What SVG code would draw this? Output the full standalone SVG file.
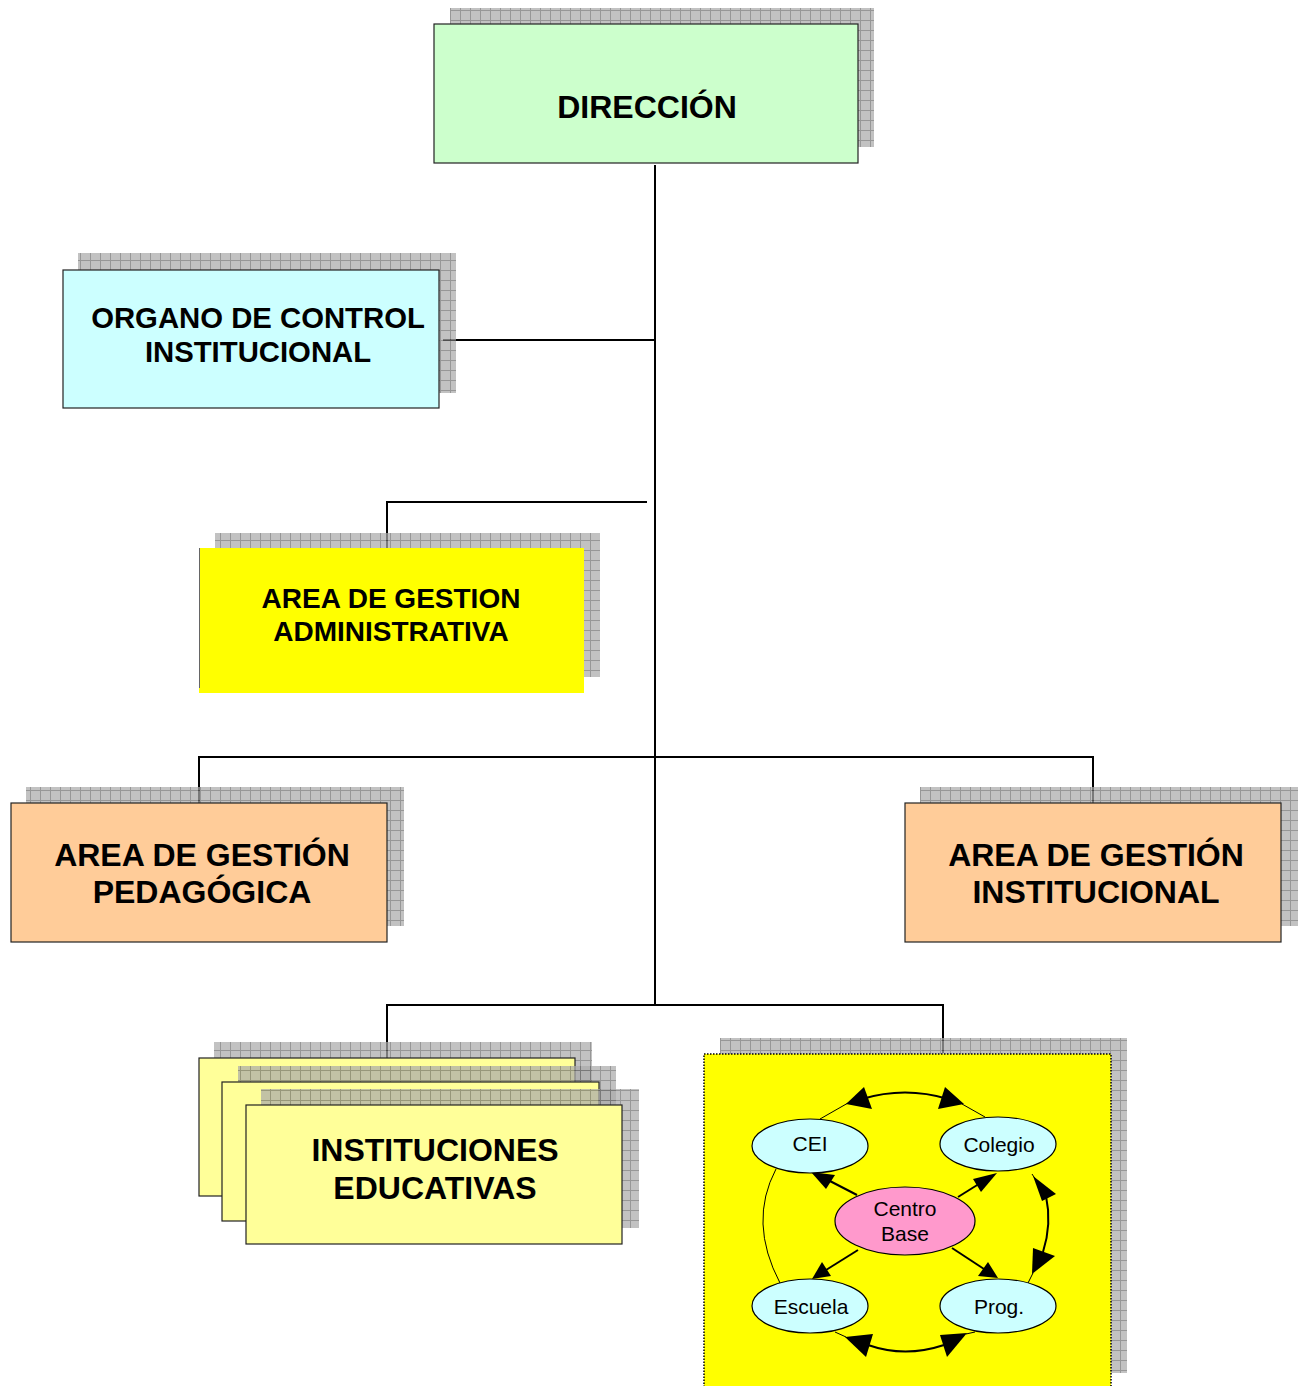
<svg xmlns="http://www.w3.org/2000/svg" width="1303" height="1386" viewBox="0 0 1303 1386">
<defs>
<pattern id="grid" x="0" y="0" width="10" height="10" patternUnits="userSpaceOnUse">
<rect width="10" height="10" fill="#aaaaaa"/>
<path d="M0 0.5H10M0.5 0V10" stroke="#6e6e6e" stroke-width="1"/>
</pattern>
<style>
.sh{fill:url(#grid);opacity:0.72}
.box{stroke:#222;stroke-width:1.2}
.big{font-family:"Liberation Sans",Arial,sans-serif;font-weight:bold;fill:#000;text-anchor:middle}
.sm{font-family:"Liberation Sans",Arial,sans-serif;font-size:21px;fill:#000;text-anchor:middle}
.ln{stroke:#000;stroke-width:2;fill:none}
.thin{stroke:#000;stroke-width:1;fill:none}
.ah{fill:#000}
.ell{stroke:#000;stroke-width:1.2}
</style>
</defs>
<rect width="1303" height="1386" fill="#fff"/>

<g id="connectors">
<path class="ln" d="M655 165V1005"/>
<path class="ln" d="M443 340H655"/>
<path class="ln" d="M647 502H387V548"/>
<path class="ln" d="M199 803V757H1093V803"/>
<path class="ln" d="M387 1058V1005H943V1053"/>
</g>

<g id="direccion">
<rect class="sh" x="450" y="8" width="424" height="139"/>
<rect class="box" x="434" y="24" width="424" height="139" fill="#ccffcc"/>
<text class="big" x="647" y="118" font-size="32">DIRECCIÓN</text>
</g>

<g id="organo">
<rect class="sh" x="78" y="253" width="378" height="140"/>
<rect class="box" x="63" y="270" width="376" height="138" fill="#ccffff"/>
<text class="big" x="258" y="328" font-size="29.3">ORGANO DE CONTROL</text>
<text class="big" x="258" y="362" font-size="29.3">INSTITUCIONAL</text>
</g>

<g id="admin">
<rect class="sh" x="215" y="533" width="385" height="144"/>
<rect x="199" y="548" width="385" height="145" fill="#ffff00"/>
<path d="M199.5 548V688" stroke="#666" stroke-width="1"/>
<text class="big" x="391" y="608" font-size="28">AREA DE GESTION</text>
<text class="big" x="391" y="641" font-size="28">ADMINISTRATIVA</text>
</g>

<g id="pedagogica">
<rect class="sh" x="26" y="787" width="378" height="139"/>
<rect class="box" x="11" y="803" width="376" height="139" fill="#ffcc99"/>
<text class="big" x="202" y="866" font-size="32">AREA DE GESTIÓN</text>
<text class="big" x="202" y="903" font-size="32">PEDAGÓGICA</text>
</g>

<g id="institucional">
<rect class="sh" x="920" y="787" width="378" height="139"/>
<rect class="box" x="905" y="803" width="376" height="139" fill="#ffcc99"/>
<text class="big" x="1096" y="866" font-size="32">AREA DE GESTIÓN</text>
<text class="big" x="1096" y="903" font-size="32">INSTITUCIONAL</text>
</g>

<g id="instituciones">
<rect class="sh" x="214" y="1042" width="378" height="139"/>
<rect class="box" x="199" y="1058" width="376" height="138" fill="#ffff99"/>
<rect class="sh" x="238" y="1066" width="378" height="140"/>
<rect class="box" x="222" y="1082" width="377" height="139" fill="#ffff99"/>
<rect class="sh" x="261" y="1089" width="378" height="139"/>
<rect class="box" x="246" y="1105" width="376" height="139" fill="#ffff99"/>
<text class="big" x="435" y="1161" font-size="32">INSTITUCIONES</text>
<text class="big" x="435" y="1199" font-size="32">EDUCATIVAS</text>
</g>

<g id="red">
<rect class="sh" x="720" y="1038" width="407" height="335"/>
<rect x="704" y="1054" width="407" height="340" fill="#ffff00" stroke="#000" stroke-width="1.5" stroke-dasharray="1.5 1.5"/>
<path class="thin" d="M820 1119 L848 1103"/>
<path class="ln" d="M862 1099 Q905 1086 948 1099"/>
<path class="thin" d="M962 1104 L985 1117"/>
<polygon class="ah" points="846,1104 864,1087 872,1109"/>
<polygon class="ah" points="964,1104 945,1087 938,1109"/>

<path class="thin" d="M1032 1174 L1036 1180"/>
<path class="ln" d="M1046 1196 Q1052 1224 1043 1252"/>
<path class="thin" d="M1033 1273 L1028 1283"/>
<polygon class="ah" points="1033,1176 1056,1194 1042,1201"/>
<polygon class="ah" points="1032,1274 1033,1248 1055,1256"/>

<path class="thin" d="M835 1332 L846 1337"/>
<path class="ln" d="M868 1345 Q905 1358 944 1345"/>
<path class="thin" d="M966 1334 L975 1332"/>
<polygon class="ah" points="845,1337 873,1334 866,1357"/>
<polygon class="ah" points="967,1333 940,1335 947,1357"/>

<path class="thin" d="M776 1169 Q748 1222 780 1283"/>

<path class="ln" d="M857 1195 L828 1180"/>
<polygon class="ah" points="811,1172 835,1175 826,1189"/>
<path class="ln" d="M958 1197 L982 1182"/>
<polygon class="ah" points="997,1173 981,1192 973,1179"/>
<path class="ln" d="M858 1250 L826 1270"/>
<polygon class="ah" points="812,1279 822,1262 831,1276"/>
<path class="ln" d="M952 1248 L984 1269"/>
<polygon class="ah" points="998,1278 978,1276 988,1262"/>

<g id="cei">
<ellipse class="ell" cx="810" cy="1146" rx="58" ry="27" fill="#ccffff"/>
<text class="sm" x="810" y="1151">CEI</text>
</g>
<g id="colegio">
<ellipse class="ell" cx="998" cy="1144" rx="58" ry="27" fill="#ccffff"/>
<text class="sm" x="999" y="1152">Colegio</text>
</g>
<g id="centro">
<ellipse class="ell" cx="905" cy="1221" rx="70" ry="34" fill="#ff99cc"/>
<text class="sm" x="905" y="1216">Centro</text>
<text class="sm" x="905" y="1241">Base</text>
</g>
<g id="escuela">
<ellipse class="ell" cx="810" cy="1306" rx="58" ry="27" fill="#ccffff"/>
<text class="sm" x="811" y="1314">Escuela</text>
</g>
<g id="prog">
<ellipse class="ell" cx="998" cy="1306" rx="58" ry="27" fill="#ccffff"/>
<text class="sm" x="999" y="1314">Prog.</text>
</g>
</g>
</svg>
